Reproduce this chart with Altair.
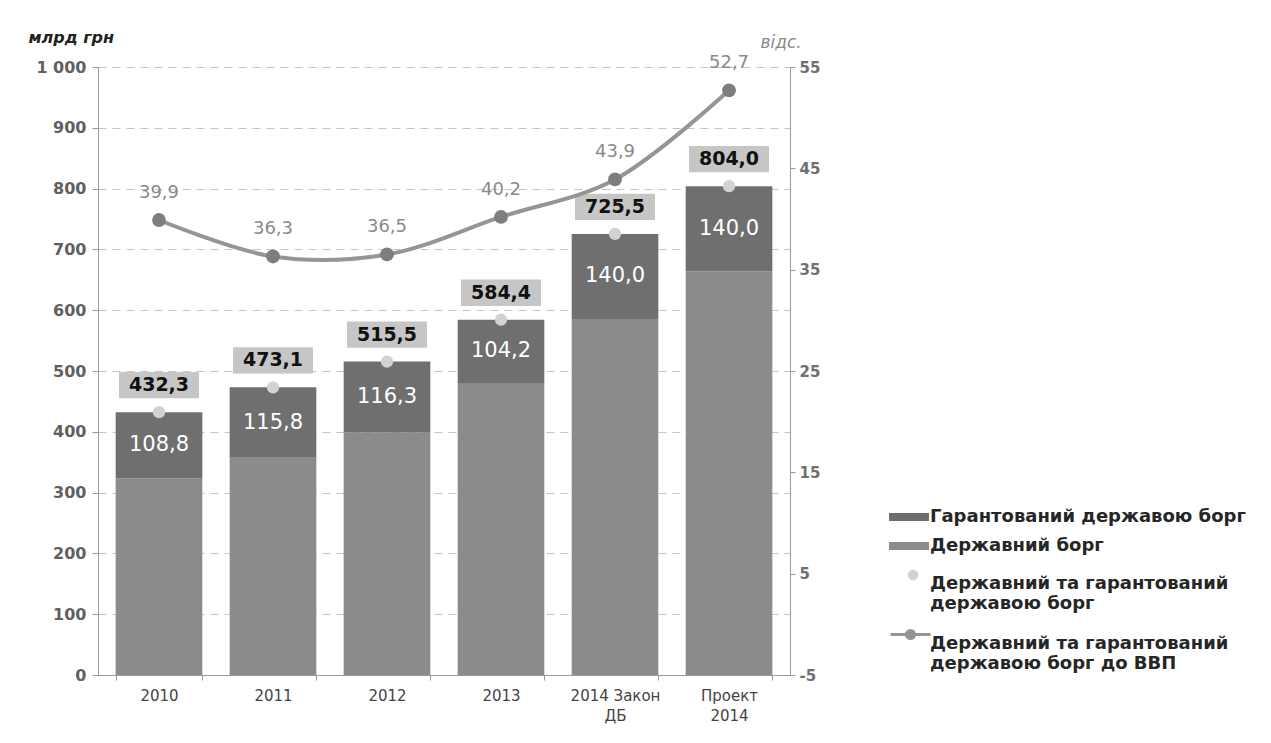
import altair as alt
import pandas as pd

categories = ["2010", "2011", "2012", "2013", "2014 Закон ДБ", "Проект 2014"]
total_debt = [432.3, 473.1, 515.5, 584.4, 725.5, 804.0]
guaranteed_debt = [108.8, 115.8, 116.3, 104.2, 140.0, 140.0]
state_debt = [323.5, 357.3, 399.2, 480.2, 585.5, 664.0]
debt_to_gdp = [39.9, 36.3, 36.5, 40.2, 43.9, 52.7]

SER_G = "Гарантований державою борг"
SER_S = "Державний борг"
SER_T = "Державний та гарантований державою борг"
SER_L = "Державний та гарантований державою борг до ВВП"

FONT = "DejaVu Sans"

rows = []
for c, s, g in zip(categories, state_debt, guaranteed_debt):
    rows.append({"category": c, "series": SER_S, "value": s, "ord": 0})
    rows.append({"category": c, "series": SER_G, "value": g, "ord": 1})
bars_df = pd.DataFrame(rows)

pts_df = pd.DataFrame({
    "category": categories,
    "total": total_debt,
    "state": state_debt,
    "guar": guaranteed_debt,
    "pct": debt_to_gdp,
    "series_t": SER_T,
    "series_l": SER_L,
})

x_label_expr = ("datum.label == '2014 Закон ДБ' ? ['2014 Закон', 'ДБ'] : "
                "datum.label == 'Проект 2014' ? ['Проект', '2014'] : datum.label")

X = alt.X(
    "category:N", sort=categories,
    scale=alt.Scale(paddingInner=0.24, paddingOuter=0.155),
    axis=alt.Axis(title=None, labelAngle=0, labelExpr=x_label_expr,
                  labelFont=FONT, labelFontSize=15, labelColor="#444",
                  labelPadding=8, tickBand="extent", domainColor="#999",
                  tickColor="#999", tickSize=5, labelLineHeight=20),
)

left_scale = alt.Scale(domain=[0, 1000], nice=False)
right_scale = alt.Scale(domain=[-5, 55], nice=False)

left_axis = alt.Axis(title="млрд грн", titleAngle=0, titleX=-70, titleY=-30,
                     titleAlign="left", titleBaseline="middle",
                     titleFont=FONT, titleFontSize=16, titleFontStyle="italic",
                     titleFontWeight="bold", titleColor="#222",
                     values=list(range(0, 1001, 100)), format="d",
                     labelExpr="datum.value == 1000 ? '1 000' : datum.label",
                     labelFont=FONT, labelFontSize=16, labelFontWeight="bold",
                     labelColor="#606060", labelPadding=6,
                     domainColor="#999", tickColor="#999", tickSize=6,
                     grid=True, gridDash=[8, 6], gridColor="#c4c4c4")

right_axis = alt.Axis(orient="right", title="відс.", titleAngle=0,
                      titleX=-30, titleY=-25, titleAlign="left",
                      titleBaseline="middle", titleFont=FONT, titleFontSize=17,
                      titleFontStyle="italic", titleColor="#8a8a8a",
                      titleFontWeight="normal",
                      values=[-5, 5, 15, 25, 35, 45, 55],
                      labelExpr="replace(datum.label, '\u2212', '-')",
                      labelFont=FONT, labelFontSize=15, labelFontWeight="bold",
                      labelColor="#707070", labelPadding=4,
                      domainColor="#999", tickColor="#999", tickSize=5, grid=False)


def YL(field):
    return alt.Y(field, scale=left_scale, axis=left_axis)


def YR(field):
    return alt.Y(field, scale=right_scale, axis=right_axis)


LEG = dict(title=None, orient="none", labelFont=FONT, labelFontSize=18,
           labelFontWeight="bold", labelColor="#262626", padding=0, labelLimit=500)

bars = alt.Chart(bars_df).mark_bar().encode(
    x=X,
    y=alt.Y("value:Q", stack="zero", scale=left_scale, axis=left_axis),
    color=alt.Color("series:N",
                    scale=alt.Scale(domain=[SER_G, SER_S], range=["#6f6f6f", "#8b8b8b"]),
                    legend=alt.Legend(legendX=801, legendY=440,
                                      symbolType="M-2,-0.4H2V0.4H-2Z", symbolSize=400,
                                      symbolStrokeWidth=0, rowPadding=10,
                                      labelOffset=11, **LEG)),
    order=alt.Order("ord:Q"),
)

base = alt.Chart(pts_df)

inner_labels = base.transform_calculate(
    mid="datum.state + datum.guar / 2",
    txt="replace(format(datum.guar, '.1f'), '.', ',')",
).mark_text(font=FONT, fontSize=21, color="white", baseline="middle").encode(
    x=X, y=YL("mid:Q"), text="txt:N")

top_circles = base.mark_point(filled=True, size=150, color="#d2d2d2", opacity=1).encode(
    x=X, y=YL("total:Q"),
    shape=alt.Shape("series_t:N", scale=alt.Scale(domain=[SER_T], range=["circle"]),
                    legend=alt.Legend(legendX=806, legendY=499,
                                      symbolSize=110, symbolFillColor="#d2d2d2",
                                      symbolStrokeWidth=0, labelOffset=8,
                                      labelBaseline="top",
                                      labelExpr="['Державний та гарантований', 'державою борг']",
                                      **LEG)),
)

boxes = base.mark_point(shape="M-1,-0.33H1V0.33H-1Z", size=6400, filled=True,
                        color="#c6c6c6", opacity=1, yOffset=-27).encode(
    x=X, y=YL("total:Q"))

total_text = base.transform_calculate(
    txt="replace(format(datum.total, '.1f'), '.', ',')"
).mark_text(font=FONT, fontSize=19, fontWeight="bold", color="#111",
            baseline="middle", yOffset=-27).encode(
    x=X, y=YL("total:Q"), text="txt:N")

left = alt.layer(bars, inner_labels, top_circles, boxes, total_text)

line = base.mark_line(interpolate="catmull-rom", strokeWidth=4).encode(
    x=X,
    y=YR("pct:Q"),
    stroke=alt.Stroke("series_l:N", scale=alt.Scale(domain=[SER_L], range=["#959595"]),
                      legend=alt.Legend(legendX=801, legendY=556,
                                        symbolType="M-2,0H2M0.4,0A0.4,0.4,0,1,1,-0.4,0A0.4,0.4,0,1,1,0.4,0Z",
                                        symbolSize=400, symbolStrokeWidth=3,
                                        symbolFillColor="#8a8a8a",
                                        labelOffset=8, labelBaseline="top",
                                        labelExpr="['Державний та гарантований', 'державою борг до ВВП']",
                                        **LEG)),
)

line_pts = base.mark_circle(size=190, color="#7e7e7e", opacity=1).encode(
    x=X, y=YR("pct:Q"))

pct_text = base.transform_calculate(
    txt="replace(format(datum.pct, '.1f'), '.', ',')"
).mark_text(font=FONT, fontSize=18, color="#8a8a8a", baseline="middle", yOffset=-27).encode(
    x=X, y=YR("pct:Q"), text="txt:N")

right = alt.layer(line, line_pts, pct_text)

chart = alt.layer(left, right).resolve_scale(y="independent").properties(
    width=692, height=608,
    autosize=alt.AutoSizeParams(type="none"),
    padding={"left": 90, "top": 59, "right": 465, "bottom": 60},
    background="white",
).configure_view(stroke=None)

chart.save("out.html", embed_options={"renderer": "svg", "actions": False})
